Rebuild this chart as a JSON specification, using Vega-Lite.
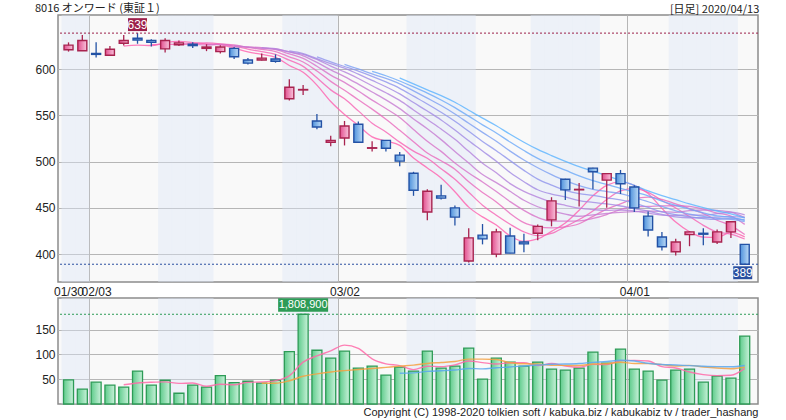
{
  "$schema": "https://vega.github.io/schema/vega-lite/v6.json",
  "background": "white",
  "padding": {"left": 34, "top": 2, "right": 5, "bottom": 2},
  "bounds": "flush",
  "spacing": 16,
  "resolve": {"scale": {"color": "independent"}},
  "title": {"text": "[日足] 2020/04/13", "anchor": "end", "offset": -13, "font": "Noto Sans CJK JP", "fontSize": 11, "fontWeight": "normal", "color": "#222222"},
  "config": {
    "view": {"stroke": "#8c8c8c", "strokeWidth": 1.5, "fill": "#f9f9f9"},
    "axis": {"labelFont": "Liberation Sans", "labelFontSize": 12, "labelColor": "#222222", "gridColor": "#b6b6b6", "gridWidth": 1, "gridOpacity": 1, "domain": false, "ticks": false},
    "title": {"font": "Noto Sans CJK JP", "fontSize": 11, "fontWeight": "normal", "color": "#222222"}
  },
  "data": {"values": [
    {"i":0,"d":"01/30","o":621,"h":629,"l":619,"c":626,"v":486000,"sh":1},
    {"i":1,"d":"01/31","o":620,"h":637,"l":620,"c":631,"v":298000,"sh":1},
    {"i":2,"d":"02/03","o":617,"h":629,"l":612.5,"c":616,"v":439000,"sh":0},
    {"i":3,"d":"02/04","o":615,"h":625,"l":614.5,"c":621.5,"v":379000,"sh":0},
    {"i":4,"d":"02/05","o":628,"h":637,"l":625.5,"c":631,"v":339000,"sh":0,"m5":625.0,"q5":388000},
    {"i":5,"d":"02/06","o":633.5,"h":639,"l":627.5,"c":631.5,"v":661000,"sh":0,"m5":626.0,"q5":423000},
    {"i":6,"d":"02/07","o":631,"h":632.5,"l":624.5,"c":629,"v":379000,"sh":0,"m5":625.6,"m7":626.4,"q5":439000},
    {"i":7,"d":"02/10","o":622,"h":633.5,"l":618,"c":631,"v":479000,"sh":1,"m5":628.6,"m7":627.1,"q5":447000},
    {"i":8,"d":"02/12","o":626.5,"h":631,"l":625,"c":628.5,"v":217000,"sh":1,"m5":630.0,"m7":626.7,"m9":627.1,"q5":415000},
    {"i":9,"d":"02/13","o":627,"h":629,"l":623,"c":625.5,"v":379000,"sh":1,"m5":628.8,"m7":628.0,"m9":627.0,"q5":423000},
    {"i":10,"d":"02/14","o":622.5,"h":627,"l":619.5,"c":624,"v":339000,"sh":1,"m5":627.4,"m7":628.4,"m9":626.2,"m11":626.6,"q5":359000},
    {"i":11,"d":"02/17","o":619,"h":626,"l":617,"c":624,"v":573000,"sh":0,"m5":626.4,"m7":627.4,"m9":627.1,"m11":626.5,"q5":397000},
    {"i":12,"d":"02/18","o":622.5,"h":624,"l":611,"c":613.5,"v":432000,"sh":0,"m5":623.0,"m7":625.0,"m9":626.3,"m11":624.9,"m13":625.5,"q5":388000},
    {"i":13,"d":"02/19","o":610,"h":612,"l":605,"c":606.5,"v":459000,"sh":0,"m5":618.6,"m7":621.7,"m9":623.6,"m11":624.0,"m13":623.9,"q5":436000},
    {"i":14,"d":"02/20","o":610,"h":617,"l":609.5,"c":612,"v":419000,"sh":0,"m5":616.0,"m7":619.0,"m9":621.4,"m11":623.2,"m13":622.5,"m15":623.3,"q5":444000,"q15":419000},
    {"i":15,"d":"02/21","o":611,"h":616,"l":607,"c":608.5,"v":479000,"sh":0,"m5":612.8,"m7":616.1,"m9":619.1,"m11":621.1,"m13":621.8,"m15":622.1,"q5":472000,"q15":418000},
    {"i":16,"d":"02/25","o":568,"h":589,"l":566,"c":580.5,"v":1057000,"sh":1,"m5":604.0,"m7":609.7,"m9":613.4,"m11":616.5,"m13":618.7,"m15":618.7,"m17":619.8,"q5":569000,"q15":469000},
    {"i":17,"d":"02/26","o":577.5,"h":583,"l":572,"c":578,"v":1808900,"sh":1,"m5":596.6,"m7":603.0,"m9":607.8,"m11":611.7,"m13":614.5,"m15":616.1,"m17":616.9,"q5":845000,"q15":560000},
    {"i":18,"d":"02/27","o":544,"h":551.5,"l":535,"c":537.5,"v":1084000,"sh":1,"m5":582.8,"m7":590.6,"m9":598.0,"m11":603.2,"m13":607.3,"m15":610.5,"m17":611.4,"m19":613.2,"q5":970000,"q15":607000},
    {"i":19,"d":"02/28","o":521,"h":528,"l":516.5,"c":523,"v":923000,"sh":1,"m5":565.0,"m7":577.6,"m9":586.8,"m11":593.6,"m13":599.2,"m15":603.3,"m17":605.9,"m19":607.8,"q5":1070000,"q15":646000},
    {"i":20,"d":"03/02","o":525.5,"h":544,"l":517.5,"c":538.5,"v":1064000,"sh":0,"m5":551.0,"m7":567.9,"m9":577.2,"m11":585.7,"m13":592.0,"m15":597.1,"m17":601.1,"m19":602.9,"m21":605.3,"q5":1187000,"q15":673000},
    {"i":21,"d":"03/03","o":540.5,"h":543.5,"l":521,"c":521,"v":722000,"sh":0,"m5":539.2,"m7":554.9,"m9":566.9,"m11":576.4,"m13":583.8,"m15":589.9,"m17":594.6,"m19":597.9,"m21":600.3,"q5":1120000,"q15":696000},
    {"i":22,"d":"03/04","o":514.5,"h":522,"l":511,"c":515,"v":762000,"sh":0,"m5":526.8,"m7":541.6,"m9":556.8,"m11":566.5,"m13":575.3,"m15":582.1,"m17":587.8,"m19":592.3,"m21":594.8,"m23":597.7,"q5":911000,"q15":715000},
    {"i":23,"d":"03/05","o":523,"h":523.5,"l":511,"c":514.5,"v":581000,"sh":0,"m5":522.2,"m7":532.1,"m9":545.9,"m11":557.4,"m13":566.8,"m15":574.5,"m17":581.0,"m19":586.2,"m21":590.0,"m23":592.9,"q5":810000,"q15":739000},
    {"i":24,"d":"03/06","o":507,"h":510.5,"l":495,"c":500.5,"v":742000,"sh":0,"m5":517.6,"m7":521.1,"m9":533.9,"m11":547.7,"m13":557.3,"m15":566.2,"m17":573.3,"m19":579.3,"m21":584.2,"m23":587.2,"m25":590.5,"q5":774000,"q15":763000,"q25":620000},
    {"i":25,"d":"03/09","o":487.5,"h":489,"l":463,"c":469,"v":661000,"sh":1,"m5":503.8,"m7":511.4,"m9":521.6,"m11":534.7,"m13":546.2,"m15":555.9,"m17":563.9,"m19":570.8,"m21":576.5,"m23":580.8,"m25":584.2,"q5":694000,"q15":784000,"q25":627000},
    {"i":26,"d":"03/10","o":445.5,"h":470,"l":436.5,"c":468,"v":1064000,"sh":1,"m5":493.2,"m7":503.6,"m9":509.4,"m11":522.0,"m13":535.5,"m15":545.5,"m17":554.7,"m19":562.3,"m21":568.7,"m23":574.1,"m25":577.7,"q5":762000,"q15":817000,"q25":658000},
    {"i":27,"d":"03/11","o":463,"h":475,"l":459,"c":460.5,"v":722000,"sh":1,"m5":482.2,"m7":492.4,"m9":500.9,"m11":511.1,"m13":523.8,"m15":535.2,"m17":545.1,"m19":553.4,"m21":560.7,"m23":566.7,"m25":571.4,"q5":754000,"q15":837000,"q25":669000},
    {"i":28,"d":"03/12","o":450,"h":452.5,"l":431,"c":440,"v":762000,"sh":1,"m5":467.4,"m7":480.9,"m9":491.7,"m11":498.6,"m13":510.9,"m15":524.1,"m17":534.2,"m19":543.7,"m21":551.6,"m23":558.4,"m25":564.2,"q5":790000,"q15":857000,"q25":684000},
    {"i":29,"d":"03/13","o":392.5,"h":428,"l":391,"c":417.5,"v":1125000,"sh":1,"m5":450.8,"m7":466.9,"m9":478.2,"m11":487.7,"m13":498.4,"m15":511.1,"m17":522.6,"m19":532.8,"m21":541.5,"m23":549.2,"m25":555.6,"q5":867000,"q15":904000,"q25":716000},
    {"i":30,"d":"03/16","o":420.5,"h":432.5,"l":410.5,"c":416.5,"v":500000,"sh":0,"m5":440.2,"m7":452.9,"m9":466.6,"m11":478.0,"m13":486.0,"m15":498.3,"m17":511.5,"m19":521.8,"m21":531.6,"m23":539.8,"m25":547.0,"q5":835000,"q15":905000,"q25":709000},
    {"i":31,"d":"03/17","o":400,"h":427.5,"l":396.5,"c":424,"v":923000,"sh":0,"m5":431.4,"m7":442.0,"m9":456.4,"m11":467.6,"m13":477.3,"m15":487.9,"m17":500.4,"m19":511.8,"m21":522.0,"m23":531.0,"m25":538.8,"q5":806000,"q15":896000,"q25":731000},
    {"i":32,"d":"03/18","o":419.5,"h":428.5,"l":401,"c":401,"v":843000,"sh":0,"m5":419.6,"m7":432.3,"m9":443.9,"m11":456.7,"m13":467.9,"m15":476.2,"m17":488.2,"m19":501.1,"m21":511.4,"m23":521.2,"m25":529.6,"q5":831000,"q15":832000,"q25":746000},
    {"i":33,"d":"03/19","o":413,"h":422,"l":402,"c":411,"v":762000,"sh":0,"m5":413.8,"m7":424.1,"m9":434.0,"m11":447.3,"m13":458.2,"m15":467.8,"m17":478.3,"m19":490.5,"m21":501.8,"m23":512.0,"m25":521.0,"q5":831000,"q15":810000,"q25":767000},
    {"i":34,"d":"03/23","o":422.5,"h":432,"l":415,"c":430,"v":843000,"sh":1,"m5":416.4,"m7":419.9,"m9":429.7,"m11":439.6,"m13":451.2,"m15":461.6,"m17":469.6,"m19":481.1,"m21":493.4,"m23":503.5,"m25":513.2,"q5":774000,"q15":805000,"q25":786000},
    {"i":35,"d":"03/24","o":437,"h":461.5,"l":430,"c":457.5,"v":702000,"sh":1,"m5":424.6,"m7":422.3,"m9":428.4,"m11":435.7,"m13":446.7,"m15":456.2,"m17":464.9,"m19":474.6,"m21":486.0,"m23":496.7,"m25":506.5,"q5":815000,"q15":781000,"q25":801000},
    {"i":36,"d":"03/25","o":481,"h":481.5,"l":458.5,"c":469.5,"v":681000,"sh":1,"m5":433.6,"m7":429.7,"m9":429.4,"m11":435.7,"m13":443.2,"m15":452.7,"m17":461.8,"m19":468.9,"m21":479.4,"m23":490.7,"m25":500.3,"q5":766000,"q15":778000,"q25":805000},
    {"i":37,"d":"03/26","o":469.5,"h":477,"l":451.5,"c":470,"v":722000,"sh":1,"m5":447.4,"m7":437.4,"m9":432.8,"m11":435.9,"m13":440.9,"m15":449.7,"m17":457.8,"m19":465.4,"m21":474.1,"m23":484.6,"m25":494.5,"q5":742000,"q15":776000,"q25":816000},
    {"i":38,"d":"03/27","o":493,"h":493.5,"l":470,"c":489,"v":1044000,"sh":1,"m5":463.0,"m7":446.7,"m9":440.8,"m11":438.5,"m13":442.5,"m15":448.1,"m17":455.9,"m19":463.6,"m21":470.0,"m23":479.4,"m25":489.8,"q5":798000,"q15":806000,"q25":840000},
    {"i":39,"d":"03/30","o":480,"h":487.5,"l":450,"c":487,"v":823000,"sh":0,"m5":474.4,"m7":459.0,"m9":448.7,"m11":442.8,"m13":443.9,"m15":447.2,"m17":454.2,"m19":460.9,"m21":467.6,"m23":475.3,"m25":484.8,"q5":794000,"q15":812000,"q25":856000},
    {"i":40,"d":"03/31","o":487,"h":491,"l":465,"c":476,"v":1105000,"sh":0,"m5":478.2,"m7":468.3,"m9":454.4,"m11":448.2,"m13":445.2,"m15":447.7,"m17":452.0,"m19":458.6,"m21":465.3,"m23":471.0,"m25":479.6,"q5":875000,"q15":841000,"q25":881000},
    {"i":41,"d":"04/01","o":472.5,"h":474.5,"l":445.5,"c":450,"v":702000,"sh":0,"m5":474.4,"m7":471.1,"m9":459.9,"m11":451.3,"m13":445.9,"m15":446.5,"m17":449.1,"m19":455.2,"m21":461.1,"m23":467.2,"m25":474.4,"q5":879000,"q15":817000,"q25":867000},
    {"i":42,"d":"04/02","o":441,"h":446,"l":419,"c":426,"v":661000,"sh":0,"m5":465.6,"m7":466.7,"m9":461.6,"m11":451.5,"m13":446.6,"m15":444.2,"m17":446.5,"m19":450.5,"m21":456.6,"m23":463.0,"m25":468.3,"q5":867000,"q15":813000,"q25":821000},
    {"i":43,"d":"04/03","o":418.5,"h":424,"l":404,"c":408,"v":480000,"sh":0,"m5":449.4,"m7":458.0,"m9":459.1,"m11":452.1,"m13":446.0,"m15":442.1,"m17":443.0,"m19":445.7,"m21":451.5,"m23":457.3,"m25":463.2,"q5":754000,"q15":794000,"q25":797000},
    {"i":44,"d":"04/06","o":402.5,"h":416.5,"l":398.5,"c":413,"v":681000,"sh":1,"m5":434.6,"m7":449.9,"m9":454.2,"m11":452.3,"m13":445.2,"m15":441.8,"m17":440.2,"m19":442.7,"m21":446.7,"m23":452.6,"m25":458.8,"q5":726000,"q15":765000,"q25":787000},
    {"i":45,"d":"04/07","o":421,"h":424.5,"l":408.5,"c":424,"v":702000,"sh":1,"m5":424.2,"m7":440.6,"m9":449.2,"m11":451.7,"m13":446.9,"m15":442.3,"m17":439.3,"m19":440.4,"m21":443.1,"m23":448.7,"m25":454.2,"q5":645000,"q15":778000,"q25":773000},
    {"i":46,"d":"04/08","o":422.5,"h":428,"l":409.5,"c":421.5,"v":439000,"sh":1,"m5":418.4,"m7":431.1,"m9":443.8,"m11":448.5,"m13":447.7,"m15":442.1,"m17":439.5,"m19":438.4,"m21":440.8,"m23":444.6,"m25":450.2,"q5":593000,"q15":746000,"q25":761000},
    {"i":47,"d":"04/09","o":413,"h":426.5,"l":411,"c":424,"v":560000,"sh":1,"m5":418.0,"m7":423.7,"m9":436.6,"m11":444.4,"m13":447.2,"m15":443.7,"m17":440.0,"m19":437.5,"m21":438.7,"m23":441.3,"m25":446.6,"q5":572000,"q15":727000,"q25":753000},
    {"i":48,"d":"04/10","o":424,"h":435.5,"l":417.5,"c":435,"v":520000,"sh":1,"m5":423.4,"m7":421.6,"m9":430.8,"m11":441.2,"m13":445.5,"m15":445.3,"m17":440.6,"m19":438.5,"m21":437.5,"m23":439.8,"m25":443.4,"q5":580000,"q15":711000,"q25":751000},
    {"i":49,"d":"04/13","o":410.5,"h":411,"l":389,"c":389,"v":1367000,"sh":0,"m5":418.6,"m7":416.3,"m9":421.1,"m11":432.1,"m13":439.4,"m15":442.5,"m17":439.9,"m19":437.1,"m21":435.1,"m23":436.4,"m25":439.0,"q5":718000,"q15":746000,"q25":776000}
  ]},
  "vconcat": [
    {
      "width": 700,
      "height": 267,
      "title": {"text": "8016 オンワード (東証１)", "anchor": "start", "offset": 1},
      "resolve": {"axis": {"x": "independent"}},
      "layer": [
        {
          "transform": [{"filter": "datum.sh == 1"}],
          "mark": {"type": "bar", "width": 14, "color": "#dce6f8", "opacity": 0.4, "clip": true},
          "encoding": {
            "x": {"field": "i", "type": "quantitative", "scale": {"domain": [-0.4, 49.6], "nice": false, "zero": false},
                  "axis": {"orient": "top", "values": [1.5, 19.5, 40.5], "grid": true, "labels": false, "ticks": false, "domain": false, "title": null}},
            "y": {"datum": 658.6, "type": "quantitative", "scale": {"domain": [369.8, 658.6], "nice": false, "zero": false},
                  "axis": {"values": [400, 450, 500, 550, 600], "grid": true, "title": null, "labelPadding": 3}},
            "y2": {"datum": 369.8}
          }
        },
        {
          "transform": [
            {"fold": ["m25", "m23", "m21", "m19", "m17", "m15", "m13", "m11", "m9", "m7", "m5"], "as": ["k", "m"]},
            {"filter": "isValid(datum.m)"}
          ],
          "mark": {"type": "line", "strokeWidth": 1.3, "opacity": 0.8, "interpolate": "monotone", "clip": true},
          "encoding": {
            "x": {"field": "i", "type": "quantitative", "axis": null},
            "y": {"field": "m", "type": "quantitative", "title": null},
            "color": {"field": "k", "type": "nominal", "legend": null,
                      "scale": {"domain": ["m25", "m23", "m21", "m19", "m17", "m15", "m13", "m11", "m9", "m7", "m5"],
                                "range": ["#5ab3ff", "#6aa9f9", "#7c9ff3", "#8e94ec", "#a18ae4", "#b482dc", "#c67ad2", "#d872c8", "#e86abd", "#f663b4", "#ff5fae"]}}
          }
        },
        {
          "mark": {"type": "rule", "strokeWidth": 1.3},
          "encoding": {
            "x": {"field": "i", "type": "quantitative",
                  "axis": {"orient": "bottom", "values": [0, 2, 20, 41], "labelExpr": "datum.value == 0 ? '01/30' : datum.value == 2 ? '02/03' : datum.value == 20 ? '03/02' : '04/01'", "grid": false, "ticks": false, "domain": false, "labelOverlap": false, "labelFlush": false, "labelPadding": 4, "title": null}},
            "y": {"field": "l", "type": "quantitative", "title": null},
            "y2": {"field": "h"},
            "color": {"condition": {"test": "datum.c >= datum.o", "value": "#a8234f"}, "value": "#2352a5"}
          }
        },
        {
          "mark": {"type": "bar", "width": 9, "strokeWidth": 1.4},
          "encoding": {
            "x": {"field": "i", "type": "quantitative", "axis": null},
            "y": {"field": "o", "type": "quantitative", "title": null},
            "y2": {"field": "c"},
            "fill": {"condition": {"test": "datum.c >= datum.o", "value": {"gradient": "linear", "x1": 0, "y1": 0, "x2": 1, "y2": 0, "stops": [{"offset": 0, "color": "#e2508f"}, {"offset": 1, "color": "#f8c4dc"}]}},
                     "value": {"gradient": "linear", "x1": 0, "y1": 0, "x2": 1, "y2": 0, "stops": [{"offset": 0, "color": "#4f92dc"}, {"offset": 1, "color": "#bcdaf6"}]}},
            "stroke": {"condition": {"test": "datum.c >= datum.o", "value": "#a8234f"}, "value": "#2352a5"}
          }
        },
        {
          "mark": {"type": "rule", "strokeDash": [2, 2], "color": "#9c1f4a", "strokeWidth": 1},
          "encoding": {"y": {"aggregate": "max", "field": "h", "type": "quantitative", "title": null}}
        },
        {
          "mark": {"type": "rule", "strokeDash": [2, 2], "color": "#2a4fa0", "strokeWidth": 1},
          "encoding": {"y": {"aggregate": "min", "field": "l", "type": "quantitative", "title": null}}
        },
        {
          "transform": [{"joinaggregate": [{"op": "max", "field": "h", "as": "mx"}]}, {"filter": "datum.h == datum.mx"}],
          "encoding": {
            "x": {"field": "i", "type": "quantitative", "axis": null},
            "y": {"field": "h", "type": "quantitative", "title": null}
          },
          "layer": [
            {"mark": {"type": "point", "shape": "M-1,-0.68H1V0.68H-1Z", "size": 361, "filled": true, "color": "#9c1f4a", "opacity": 1, "yOffset": -8.5}},
            {"mark": {"type": "text", "color": "white", "font": "Liberation Sans", "fontSize": 12, "yOffset": -8, "baseline": "middle"},
             "encoding": {"text": {"field": "h", "type": "quantitative"}}}
          ]
        },
        {
          "transform": [{"joinaggregate": [{"op": "min", "field": "l", "as": "mn"}]}, {"filter": "datum.l == datum.mn"}],
          "encoding": {
            "x": {"field": "i", "type": "quantitative", "axis": null},
            "y": {"field": "l", "type": "quantitative", "title": null}
          },
          "layer": [
            {"mark": {"type": "point", "shape": "M-1,-0.68H1V0.68H-1Z", "size": 361, "filled": true, "color": "#2a4fa0", "opacity": 1, "yOffset": 8.5, "xOffset": -2}},
            {"mark": {"type": "text", "color": "white", "font": "Liberation Sans", "fontSize": 12, "yOffset": 9, "xOffset": -2, "baseline": "middle"},
             "encoding": {"text": {"field": "l", "type": "quantitative"}}}
          ]
        }
      ]
    },
    {
      "width": 700,
      "height": 106,
      "resolve": {"axis": {"x": "independent"}},
      "layer": [
        {
          "transform": [{"filter": "datum.sh == 1"}],
          "mark": {"type": "bar", "width": 14, "color": "#dce6f8", "opacity": 0.4, "clip": true},
          "encoding": {
            "x": {"field": "i", "type": "quantitative", "scale": {"domain": [-0.4, 49.6], "nice": false, "zero": false},
                  "axis": {"orient": "top", "values": [1.5, 19.5, 40.5], "grid": true, "labels": false, "ticks": false, "domain": false, "title": null}},
            "y": {"datum": 2137000, "type": "quantitative", "scale": {"domain": [0, 2137000], "nice": false},
                  "axis": {"values": [500000, 1000000, 1500000], "labelExpr": "datum.value / 10000", "grid": true, "title": null, "labelPadding": 3}},
            "y2": {"datum": 0}
          }
        },
        {
          "mark": {"type": "bar", "width": 10, "strokeWidth": 1.3, "stroke": "#2d9b56",
                   "fill": {"gradient": "linear", "x1": 0, "y1": 0, "x2": 1, "y2": 0, "stops": [{"offset": 0, "color": "#5fcc8c"}, {"offset": 1, "color": "#c9f1da"}]}},
          "encoding": {
            "x": {"field": "i", "type": "quantitative",
                  "axis": {"orient": "bottom", "labels": false, "ticks": false, "domain": false, "grid": false,
                           "title": "Copyright (C) 1998-2020 tolkien soft / kabuka.biz / kabukabiz tv / trader_hashang",
                           "titleAnchor": "end", "titleAlign": "right", "titleFont": "Liberation Sans", "titleFontSize": 11, "titleFontWeight": "normal", "titleColor": "#222222", "titlePadding": 2}},
            "y": {"field": "v", "type": "quantitative", "title": null}
          }
        },
        {
          "transform": [
            {"fold": ["q25", "q15", "q5"], "as": ["k", "m"]},
            {"filter": "isValid(datum.m)"}
          ],
          "mark": {"type": "line", "strokeWidth": 1.4, "opacity": 0.85, "interpolate": "monotone"},
          "encoding": {
            "x": {"field": "i", "type": "quantitative", "axis": null},
            "y": {"field": "m", "type": "quantitative", "title": null},
            "color": {"field": "k", "type": "nominal", "legend": null,
                      "scale": {"domain": ["q25", "q15", "q5"], "range": ["#5aa8ee", "#f5a142", "#ff6aa8"]}}
          }
        },
        {
          "mark": {"type": "rule", "strokeDash": [2, 2], "color": "#2d9b56", "strokeWidth": 1},
          "encoding": {"y": {"aggregate": "max", "field": "v", "type": "quantitative", "title": null}}
        },
        {
          "transform": [{"joinaggregate": [{"op": "max", "field": "v", "as": "mv"}]}, {"filter": "datum.v == datum.mv"}],
          "encoding": {
            "x": {"field": "i", "type": "quantitative", "axis": null},
            "y": {"field": "v", "type": "quantitative", "title": null}
          },
          "layer": [
            {"mark": {"type": "point", "shape": "M-1,-0.268H1V0.268H-1Z", "size": 2500, "filled": true, "color": "#2d9b56", "opacity": 1, "yOffset": -9.3}},
            {"mark": {"type": "text", "color": "white", "font": "Liberation Sans", "fontSize": 11, "yOffset": -9, "baseline": "middle"},
             "encoding": {"text": {"field": "v", "type": "quantitative", "format": ","}}}
          ]
        }
      ]
    }
  ]
}
